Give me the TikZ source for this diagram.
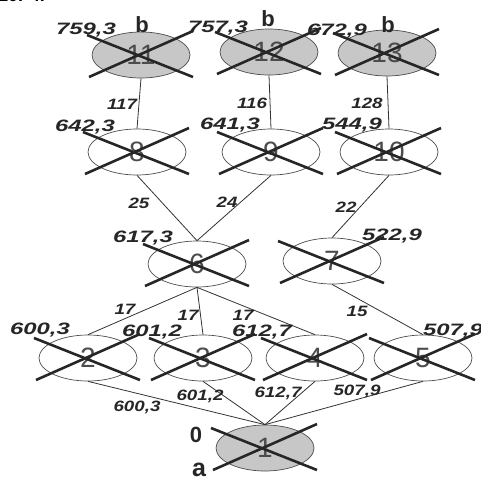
\documentclass[tikz,border=0pt]{standalone}
\usepackage{fontspec}
\setmainfont{Liberation Sans}
\usetikzlibrary{shapes.geometric}
\begin{document}
\begin{tikzpicture}[x=1pt,y=-1pt,
  vert/.style={ellipse,draw=black!70,line width=0.7pt,minimum width=98pt,minimum height=46pt,
    inner sep=0pt,font=\fontsize{28}{28}\selectfont,text=black!70},
  term/.style={vert,fill=black!22},
  edge/.style={draw=black!80,line width=0.8pt},
  cross/.style={draw=black!85,line width=2.6pt},
  wlab/.style={font=\fontsize{15}{15}\selectfont\bfseries\itshape,text=black!85,xscale=1.25,inner sep=0pt},
  vlab/.style={font=\fontsize{16.5}{16.5}\selectfont\bfseries\itshape,text=black!85,xscale=1.45,inner sep=0pt},
  endlab/.style={font=\fontsize{22}{22}\selectfont\bfseries,text=black!85,inner sep=0pt}]
\useasboundingbox (0,0) rectangle (481,480);
\clip (0,0) rectangle (481,480);

% heading line above the graph
\node[anchor=base west,font=\fontsize{18}{18}\selectfont\bfseries,inner sep=0pt] (head) at (-2,1) {10. 4.};

% vertices
\node[term] (n11) at (141,55) {11};
\node[term] (n12) at (269,52) {12};
\node[term] (n13) at (387,53) {13};
\node[vert] (n8) at (137,152) {8};
\node[vert] (n9) at (271,152) {9};
\node[vert] (n10) at (389,152) {10};
\node[vert] (n6) at (197,264) {6};
\node[vert] (n7) at (332,261) {7};
\node[vert] (n2) at (88,358) {2};
\node[vert] (n3) at (203,358) {3};
\node[vert] (n4) at (315,358) {4};
\node[vert] (n5) at (423,358) {5};
\node[term] (n1) at (265,448) {1};

% arcs
\draw[edge] (n11.south) -- (n8.north);
\draw[edge] (n12.south) -- (n9.north);
\draw[edge] (n13.south) -- (n10.north);
\draw[edge] (n8.south) -- (n6.north);
\draw[edge] (n9.south) -- (n6.north);
\draw[edge] (n10.south) -- (n7.north);
\draw[edge] (n6.south) -- (n2.north);
\draw[edge] (n6.south) -- (n3.north);
\draw[edge] (n6.south) -- (n4.north);
\draw[edge] (n7.south) -- (n5.north);
\draw[edge] (n2.south) -- (n1.north);
\draw[edge] (n3.south) -- (n1.north);
\draw[edge] (n4.south) -- (n1.north);
\draw[edge] (n5.south) -- (n1.north);

% arc weights
\node[wlab] (w118) at (122,104) {117};
\node[wlab] (w129) at (252,103) {116};
\node[wlab] (w1310) at (367,103) {128};
\node[wlab] (w86) at (139,203) {25};
\node[wlab] (w96) at (227,202) {24};
\node[wlab] (w107) at (346,207) {22};
\node[wlab] (w62) at (125,309) {17};
\node[wlab] (w63) at (188,315) {17};
\node[wlab] (w64) at (243,315) {17};
\node[wlab] (w75) at (357,311) {15};
\node[wlab] (w21) at (137,407) {600,3};
\node[wlab] (w31) at (200,396) {601,2};
\node[wlab] (w41) at (278,393) {612,7};
\node[wlab] (w51) at (357,391) {507,9};

% vertex labels
\node[vlab] (v11) at (86,30) {759,3};
\node[vlab] (v12) at (218,28) {757,3};
\node[vlab] (v13) at (337,31) {672,9};
\node[vlab] (v8) at (85,127) {642,3};
\node[vlab] (v9) at (230,125) {641,3};
\node[vlab] (v10) at (352,125) {544,9};
\node[vlab] (v6) at (143,238) {617,3};
\node[vlab] (v7) at (392,236) {522,9};
\node[vlab] (v2) at (40,330) {600,3};
\node[vlab] (v3) at (152,332) {601,2};
\node[vlab] (v4) at (262,332) {612,7};
\node[vlab] (v5) at (453,331) {507,9};
\node[endlab] (b11) at (142,25) {b};
\node[endlab] (b12) at (268,19) {b};
\node[endlab] (b13) at (388,25) {b};
\node[endlab] (z1) at (196,435) {0};
\node[endlab,font=\fontsize{25}{25}\selectfont\bfseries] (a1) at (199,470) {a};

% every vertex is crossed out
\foreach \v in {n11,n12,n13,n8,n9,n10,n6,n7,n2,n3,n4,n5,n1}{
  \draw[cross] ([shift={(-54,-20)}]\v.center) -- ([shift={(52,22)}]\v.center);
  \draw[cross] ([shift={(-52,22)}]\v.center) -- ([shift={(52,-24)}]\v.center);
}
\end{tikzpicture}
\end{document}
